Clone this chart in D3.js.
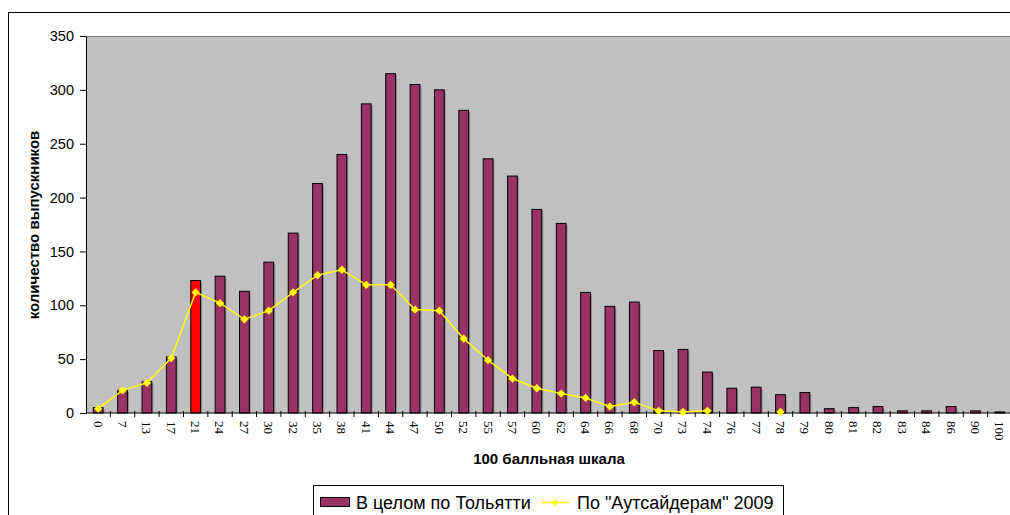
<!DOCTYPE html>
<html>
<head>
<meta charset="utf-8">
<script src="https://cdn.jsdelivr.net/npm/d3@7"></script>
<style>
  html, body { margin: 0; padding: 0; background: #fff; }
  svg { display: block; }
</style>
</head>
<body>
<svg id="chart" width="1010" height="515"></svg>
<script>
// ---- data ----
const categories = ["0","7","13","17","21","24","27","30","32","35","38","41","44","47","50","52","55","57","60","62","64","66","68","70","73","74","76","77","78","79","80","81","82","83","84","86","90","100"];
const totalValues = [5,21,29,52,123,127,113,140,167,213,240,287,315,305,300,281,236,220,189,176,112,99,103,58,59,38,23,24,17,19,4,5,6,2,2,6,2,1];
const outsiderValues = [4,21,28,51,112,102,87,95,112,128,133,119,119,96,95,69,49,32,23,18,14,6,10,2,1,2,null,null,1,null,null,null,null,null,null,null,null,null];
const highlightCategory = "21";
const yTicks = [0,50,100,150,200,250,300,350];
const seriesNames = ["В целом по Тольятти", "По \"Аутсайдерам\" 2009"];
const xTitle = "100 балльная шкала";
const yTitle = "количество выпускников";

// ---- layout ----
const svg = d3.select("#chart");
const plot = { left: 86, top: 36, right: 1012, bottom: 413 };

const x = d3.scaleBand().domain(categories).range([plot.left, plot.right]).paddingInner(0).paddingOuter(0);
const y = d3.scaleLinear().domain([0, 350]).range([plot.bottom, plot.top]);
const barW = x.bandwidth() * 0.4;

// outer chart border
svg.append("rect").attr("x", 8.5).attr("y", 12.5).attr("width", 1100).attr("height", 600)
  .attr("fill", "#fff").attr("stroke", "#000").attr("stroke-width", 1);

// plot background
svg.append("rect").attr("x", plot.left).attr("y", plot.top)
  .attr("width", plot.right - plot.left).attr("height", plot.bottom - plot.top)
  .attr("fill", "#C0C0C0");
svg.append("line").attr("x1", plot.left).attr("x2", plot.right + 5)
  .attr("y1", plot.top + 0.5).attr("y2", plot.top + 0.5)
  .attr("stroke", "#808080").attr("stroke-width", 1);

// bars (shadow + bar)
const data = categories.map((c, i) => ({ c, v: totalValues[i], o: outsiderValues[i] }));
svg.append("g").selectAll("rect").data(data).join("rect")
  .attr("x", d => x(d.c) + x.bandwidth() / 2 - barW / 2 + 1.5)
  .attr("y", d => y(d.v) + 1.5)
  .attr("width", barW)
  .attr("height", d => y(0) - y(d.v) - 1.5)
  .attr("fill", "#8a8a8a");
svg.append("g").selectAll("rect").data(data).join("rect")
  .attr("x", d => x(d.c) + x.bandwidth() / 2 - barW / 2)
  .attr("y", d => y(d.v))
  .attr("width", barW)
  .attr("height", d => y(0) - y(d.v))
  .attr("fill", d => d.c === highlightCategory ? "#FF0000" : "#993366")
  .attr("stroke", "#000").attr("stroke-width", 1);

// y axis
const yAxis = d3.axisLeft(y).tickValues(yTicks).tickSize(6).tickPadding(6);
const gy = svg.append("g").attr("transform", `translate(${plot.left},0)`).call(yAxis);
gy.select(".domain").attr("stroke", "#000");
gy.selectAll(".tick line").attr("stroke", "#000");
gy.selectAll("text").attr("font-family", "Liberation Sans, Arial, sans-serif").attr("font-size", 14.5).attr("fill", "#000");

// x axis
const gx = svg.append("g").attr("transform", `translate(0,${plot.bottom})`);
gx.append("line").attr("x1", plot.left).attr("x2", plot.right).attr("y1", 0).attr("y2", 0).attr("stroke", "#000");
gx.selectAll("line.tk").data(categories.slice(1)).join("line").attr("class", "tk")
  .attr("x1", d => x(d)).attr("x2", d => x(d)).attr("y1", -2).attr("y2", 4).attr("stroke", "#000");
gx.selectAll("text").data(categories).join("text")
  .attr("transform", d => `translate(${x(d) + x.bandwidth() / 2},8) rotate(90)`)
  .attr("dy", "0.35em")
  .attr("text-anchor", "start")
  .attr("font-family", "Liberation Serif, Times New Roman, serif")
  .attr("font-size", 13)
  .attr("fill", "#000")
  .text(d => d);

// line series
const line = d3.line().defined(d => d.o != null)
  .x(d => x(d.c) + x.bandwidth() / 2).y(d => y(d.o));
svg.append("path").datum(data).attr("d", line)
  .attr("fill", "none").attr("stroke", "#FFFF00").attr("stroke-width", 1.5);
const diamond = d3.symbol().type(d3.symbolDiamond2).size(44);
svg.append("g").selectAll("path").data(data.filter(d => d.o != null)).join("path")
  .attr("transform", d => `translate(${x(d.c) + x.bandwidth() / 2},${y(d.o)})`)
  .attr("d", diamond)
  .attr("fill", "#FFFF00");

// axis titles
svg.append("text").attr("x", 549).attr("y", 464)
  .attr("text-anchor", "middle")
  .attr("font-family", "Liberation Sans, Arial, sans-serif").attr("font-weight", "bold").attr("font-size", 15)
  .text(xTitle);
svg.append("text").attr("transform", "translate(39,225) rotate(-90)")
  .attr("text-anchor", "middle")
  .attr("font-family", "Liberation Sans, Arial, sans-serif").attr("font-weight", "bold").attr("font-size", 15)
  .text(yTitle);

// legend
const lg = svg.append("g");
lg.append("rect").attr("x", 313.5).attr("y", 485.5).attr("width", 470).attr("height", 60)
  .attr("fill", "#fff").attr("stroke", "#000").attr("stroke-width", 1);
lg.append("rect").attr("x", 320.5).attr("y", 497.5).attr("width", 29).attr("height", 9)
  .attr("fill", "#993366").attr("stroke", "#000");
lg.append("text").attr("x", 356).attr("y", 508.5)
  .attr("font-family", "Liberation Sans, Arial, sans-serif").attr("font-size", 18).text(seriesNames[0]);
lg.append("line").attr("x1", 541).attr("x2", 569).attr("y1", 502.5).attr("y2", 502.5)
  .attr("stroke", "#FFFF00").attr("stroke-width", 1.5);
lg.append("path").attr("transform", "translate(555,502.5)").attr("d", d3.symbol().type(d3.symbolDiamond2).size(30)).attr("fill", "#FFFF00");
lg.append("text").attr("x", 577).attr("y", 508.5)
  .attr("font-family", "Liberation Sans, Arial, sans-serif").attr("font-size", 18).text(seriesNames[1]);
</script>
</body>
</html>
